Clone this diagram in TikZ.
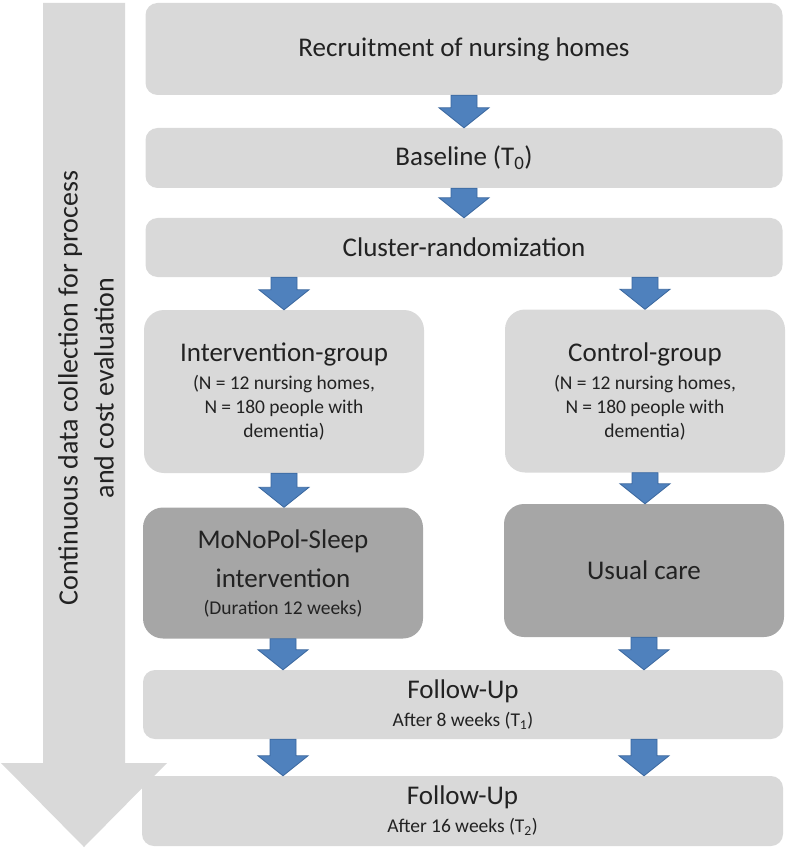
\documentclass[tikz,border=0pt]{standalone}
\usepackage{fontspec}
\setmainfont{Carlito}
\usepackage{xcolor}
\usepackage{tikz}
\usetikzlibrary{calc}

\definecolor{stagegray}{HTML}{D9D9D9}
\definecolor{treatgray}{HTML}{A6A6A6}
\definecolor{flowblue}{HTML}{4F81BD}
\definecolor{flowline}{HTML}{3A679E}
\definecolor{txtgray}{HTML}{222222}

\newcommand{\bigtxt}{\fontsize{27}{33}\selectfont}
\newcommand{\smalltxt}[1][24]{\fontsize{19.5}{#1}\selectfont\spaceskip=0.22em\relax}

% blue block arrow from one anchor down to another
\newcommand{\stagearrow}[2]{%
  \path let \p1=(#1), \p2=(#2) in [flowarrow]
    (\x1-13pt,\y1) -- (\x1+13pt,\y1) -- (\x1+13pt,\y2+20pt) -- (\x1+25pt,\y2+20pt)
    -- (\x1,\y2) -- (\x1-25pt,\y2+20pt) -- (\x1-13pt,\y2+20pt) -- cycle;}

\tikzset{
  stage/.style={fill=stagegray, rounded corners=12pt, minimum width=637pt,
    inner sep=0pt, text width=620pt, align=center, text=txtgray, font=\bigtxt,
    execute at begin node={\spaceskip=0.22em\relax}},
  group/.style={stage, rounded corners=20pt, minimum width=280pt,
    minimum height=163pt, text width=270pt},
  treat/.style={group, fill=treatgray, minimum height=131pt},
  flowarrow/.style={fill=flowblue, draw=flowline, line width=0.8pt, line join=miter},
}

\begin{document}
\begin{tikzpicture}[x=1pt, y=-1pt]
        \useasboundingbox (0,0) rectangle (787,850);

        % side arrow
        \fill[stagegray] (43,3) -- (125,3) -- (125,763) -- (167,763) -- (84,847)
            -- (1,763) -- (43,763) -- cycle;
        \node[rotate=90, align=center, text=txtgray, font=\fontsize{28}{36}\selectfont]
            (continuous) at (86,388) {Continuous data collection for process\\and cost evaluation};

        % stages
        \node[stage, minimum height=92pt] (recruit) at (464,49) {Recruitment of nursing homes};
        \node[stage, minimum height=60pt] (baseline) at (464,158) {Baseline (T\textsubscript{0})};
        \node[stage, minimum height=59pt] (cluster) at (464,247.5) {Cluster-randomization};

        \node[group] (interv) at (284,391.5) {Intervention-group\\[4pt]
            {\smalltxt (N = 12 nursing homes,\\ N = 180 people with\\ dementia)\par}};
        \node[group] (control) at (645,391) {Control-group\\[4pt]
            {\smalltxt (N = 12 nursing homes,\\ N = 180 people with\\ dementia)\par}};

        \node[treat] (sleep) at (283,573) {MoNoPol-Sleep\\[6pt] intervention\\
            {\smalltxt[27] (Duration 12 weeks)\par}};
        \node[treat, minimum height=133pt] (usual) at (644,570.5) {Usual care};

        \node[stage, minimum width=640pt, minimum height=69pt] (follow1) at (463,704.5)
            {Follow-Up\\ {\smalltxt[28] After 8 weeks (T\textsubscript{1})\par}};
        \node[stage, minimum width=641pt, minimum height=70pt] (follow2) at (462.5,811)
            {Follow-Up\\ {\smalltxt[28] After 16 weeks (T\textsubscript{2})\par}};

        % arrows
        \stagearrow{recruit.south}{baseline.north}
        \stagearrow{baseline.south}{cluster.north}
        \stagearrow{cluster.south -| interv.north}{interv.north}
        \stagearrow{cluster.south -| control.north}{control.north}
        \stagearrow{interv.south}{sleep.north}
        \stagearrow{control.south}{usual.north}
        \stagearrow{sleep.south}{follow1.north -| sleep.south}
        \stagearrow{usual.south}{follow1.north -| usual.south}
        \stagearrow{follow1.south -| sleep.south}{follow2.north -| sleep.south}
        \stagearrow{follow1.south -| usual.south}{follow2.north -| usual.south}
\end{tikzpicture}
\end{document}
